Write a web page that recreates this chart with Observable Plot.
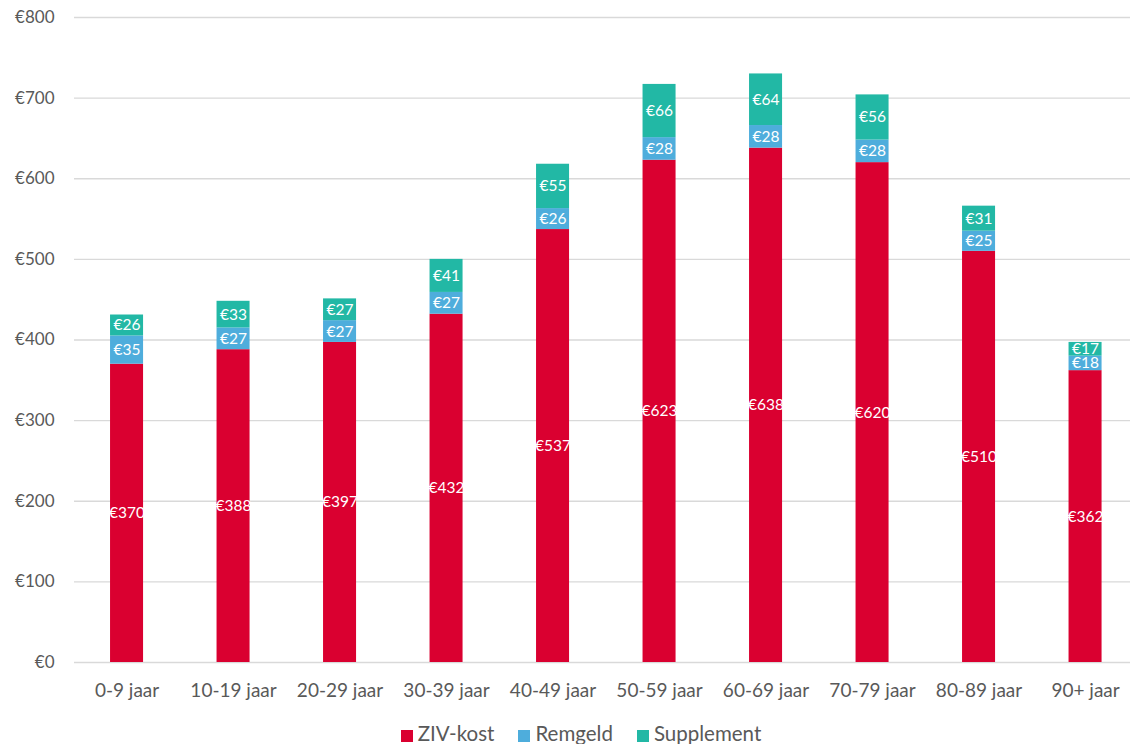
<!DOCTYPE html>
<html>
<head>
<meta charset="utf-8">
<script src="https://cdn.jsdelivr.net/npm/d3@7"></script>
<script src="https://cdn.jsdelivr.net/npm/@observablehq/plot@0.6"></script>
<style>
  body { margin: 0; background: #fff; font-family: Lato, "Open Sans", sans-serif; }
  #legend { display: flex; justify-content: center; gap: 24px; height: 22px; line-height: 22px; font-size: 20.5px; color: #595959; margin-left: 32px; }
  #legend span.sw { display: inline-block; width: 12px; height: 12px; margin-right: 5px; vertical-align: -1px; }
</style>
</head>
<body>
<div id="chart"></div>
<div id="legend"></div>
<script>
const categories = ["0-9 jaar","10-19 jaar","20-29 jaar","30-39 jaar","40-49 jaar","50-59 jaar","60-69 jaar","70-79 jaar","80-89 jaar","90+ jaar"];
const zivKost    = [370,388,397,432,537,623,638,620,510,362];
const remgeld    = [35,27,27,27,26,28,28,28,25,18];
const supplement = [26,33,27,41,55,66,64,56,31,17];
const seriesNames = ["ZIV-kost","Remgeld","Supplement"];
const seriesColors = ["#DA0030","#4EADDC","#22B8A5"];
const yTicks = [0,100,200,300,400,500,600,700,800];

const seriesValues = [zivKost, remgeld, supplement];
const data = [];
categories.forEach((c, i) => {
  seriesNames.forEach((s, j) => data.push({cat: c, series: s, value: seriesValues[j][i]}));
});

const chart = Plot.plot({
  width: 1130,
  height: 722,
  marginLeft: 74,
  marginRight: 0,
  marginTop: 17,
  marginBottom: 60,
  style: {fontFamily: "Lato, 'Open Sans', sans-serif", fontSize: "17px", color: "#595959", background: "#fff"},
  x: {domain: categories, range: [73.3, 1138.3], paddingInner: 0.69, paddingOuter: 0.345, round: false, label: null},
  y: {domain: [0, 800], label: null},
  color: {domain: seriesNames, range: seriesColors},
  marks: [
    Plot.ruleY(yTicks, {stroke: "#d9d9d9", strokeWidth: 1.3}),
    Plot.axisY({ticks: yTicks, tickFormat: d => "€" + d, tickSize: 0, tickPadding: 20, label: null, fontSize: 17, fill: "#595959"}),
    Plot.axisX({tickSize: 0, tickPadding: 21, label: null, fontSize: 19, fill: "#595959"}),
    Plot.barY(data, {x: "cat", y: "value", fill: "series", order: seriesNames}),
    Plot.text(data, Plot.stackY({x: "cat", y: "value", z: "series", order: seriesNames, text: d => "€" + d.value, fill: "white", fontSize: 15.5}))
  ]
});
document.getElementById("chart").appendChild(chart);

const legend = document.getElementById("legend");
seriesNames.forEach((s, i) => {
  const item = document.createElement("div");
  item.innerHTML = `<span class="sw" style="background:${seriesColors[i]}"></span>${s}`;
  legend.appendChild(item);
});
</script>
</body>
</html>
